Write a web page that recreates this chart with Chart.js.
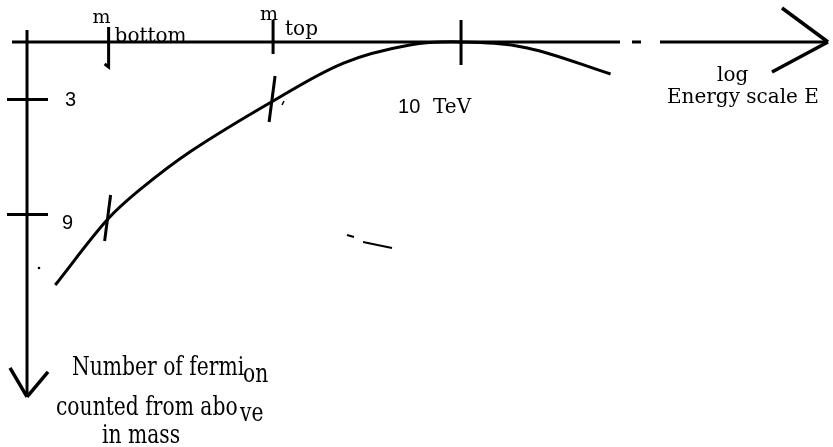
<!DOCTYPE html>
<html>
<head>
<meta charset="utf-8">
<script src="https://cdn.jsdelivr.net/npm/chart.js@4.4.0/dist/chart.umd.min.js"></script>
<style>
  html, body { margin: 0; padding: 0; background: #fff; }
</style>
</head>
<body>
<canvas id="sketch" width="833" height="447"></canvas>
<script>
// x: log10(E / GeV), y: number of fermions counted from above in mass
const energyLog = [0.20, 0.685, 0.99, 1.46, 2.24, 2.90, 3.52, 4.0, 4.62, 5.40];
const fermionCount = [12.68, 9.29, 7.72, 5.74, 3.08, 1.10, 0.16, 0, 0.31, 1.67];
const energyTicks = [0.7, 2.24, 4.0];
const energyTickLabels = ['bottom', 'top', '10 TeV'];
const countTicks = [3, 9];
const countTickLabels = ['3', '9'];

const SERIF = '"DejaVu Serif", "Liberation Serif", serif';
const SANS = '"Liberation Sans", Arial, sans-serif';

const sketchAxes = {
  id: 'sketchAxes',
  afterDatasetsDraw(chart) {
    const ctx = chart.ctx;
    const xs = chart.scales.x, ys = chart.scales.y;
    const px = v => xs.getPixelForValue(v);
    const py = v => ys.getPixelForValue(v);
    const ox = px(-0.064), oy = py(0);
    const xEnd = px(7.436), yEnd = py(18.52);

    ctx.save();
    ctx.strokeStyle = '#000';
    ctx.fillStyle = '#000';
    const seg = (x1, y1, x2, y2) => {
      ctx.beginPath(); ctx.moveTo(x1, y1); ctx.lineTo(x2, y2); ctx.stroke();
    };
    const txt = (s, x, y, size, family, sx) => {
      ctx.save();
      ctx.translate(x, y);
      ctx.scale(sx || 1, 1);
      ctx.font = size + 'px ' + family;
      ctx.fillText(s, 0, 0);
      ctx.restore();
    };

    // energy axis with a break before the arrow
    ctx.lineWidth = 3;
    seg(ox - 15, oy, xEnd - 208, oy);
    seg(xEnd - 196, oy, xEnd - 187, oy);
    seg(xEnd - 168, oy, xEnd, oy);
    ctx.lineWidth = 3.5;
    seg(xEnd - 46, oy - 34, xEnd, oy);
    seg(xEnd - 56, oy + 30, xEnd, oy);

    // fermion count axis, pointing down
    ctx.lineWidth = 3;
    seg(ox, oy - 12, ox, yEnd);
    ctx.lineWidth = 3.5;
    seg(ox - 17, yEnd - 29, ox, yEnd);
    seg(ox + 21, yEnd - 25, ox, yEnd);

    // count ticks
    ctx.lineWidth = 3;
    const labelPos = [[38, 7], [35, 15]];
    countTicks.forEach((n, i) => {
      const y = py(n);
      seg(ox - 20, y, ox + 21, y);
      txt(countTickLabels[i], ox + labelPos[i][0], y + labelPos[i][1], 21, SANS, 0.95);
    });

    // energy ticks on the axis
    const tb = px(energyTicks[0]), tt = px(energyTicks[1]), tv = px(energyTicks[2]);
    ctx.beginPath();
    ctx.moveTo(tb, oy - 15); ctx.lineTo(tb, oy + 25); ctx.lineTo(tb - 4, oy + 22);
    ctx.stroke();
    seg(tt, oy - 22, tt, oy + 12);
    seg(tv, oy - 22, tv, oy + 23);

    // the same energies marked where the curve passes them
    [1, 4].forEach((k, i) => {
      const ex = i === 0 ? tb : tt;
      const cy = py(fermionCount[k]);
      seg(ex + 2, cy - 25, ex - 4, cy + 21);
    });

    // stray pen marks
    ctx.lineWidth = 2;
    seg(347, 235, 354, 237);
    seg(363, 242, 392, 248);
    ctx.beginPath(); ctx.arc(39, 268, 1.3, 0, Math.PI * 2); ctx.fill();
    ctx.lineWidth = 1.5;
    seg(284, 101, 282, 105);

    // labels
    ctx.textBaseline = 'alphabetic';
    txt('m', tb - 16, oy - 19, 19, SERIF);
    txt(energyTickLabels[0], tb + 6, oy, 20, SERIF);
    txt('m', tt - 13, oy - 22, 19, SERIF);
    txt(energyTickLabels[1], tt + 12, oy - 7, 20, SERIF);

    const tev = energyTickLabels[2].split(' ');
    txt(tev[0], tv - 63, oy + 71, 21, SANS, 0.95);
    txt(tev[1], tv - 28, oy + 71, 20, SERIF);

    txt('log', xEnd - 111, oy + 39, 20, SERIF);
    txt('Energy scale E', xEnd - 161, oy + 61, 20, SERIF);

    txt('Number of fermi', 72, 375, 26, SERIF, 0.78);
    txt('on', 243, 382, 26, SERIF, 0.78);
    txt('counted from abo', 56, 415, 26, SERIF, 0.78);
    txt('ve', 240, 421, 26, SERIF, 0.78);
    txt('in mass', 102, 443, 26, SERIF, 0.78);
    ctx.restore();
  }
};

new Chart(document.getElementById('sketch'), {
  type: 'scatter',
  data: {
    datasets: [{
      data: energyLog.map((e, i) => ({ x: e, y: fermionCount[i] })),
      showLine: true,
      borderColor: '#000',
      borderWidth: 3,
      pointRadius: 0,
      tension: 0.35,
      fill: false
    }]
  },
  options: {
    responsive: false,
    animation: false,
    layout: { padding: 0 },
    plugins: { legend: { display: false }, tooltip: { enabled: false } },
    scales: {
      x: { type: 'linear', min: -0.317, max: 7.483, display: false },
      y: { type: 'linear', min: -2.19, max: 21.13, reverse: true, display: false }
    }
  },
  plugins: [sketchAxes]
});
</script>
</body>
</html>
